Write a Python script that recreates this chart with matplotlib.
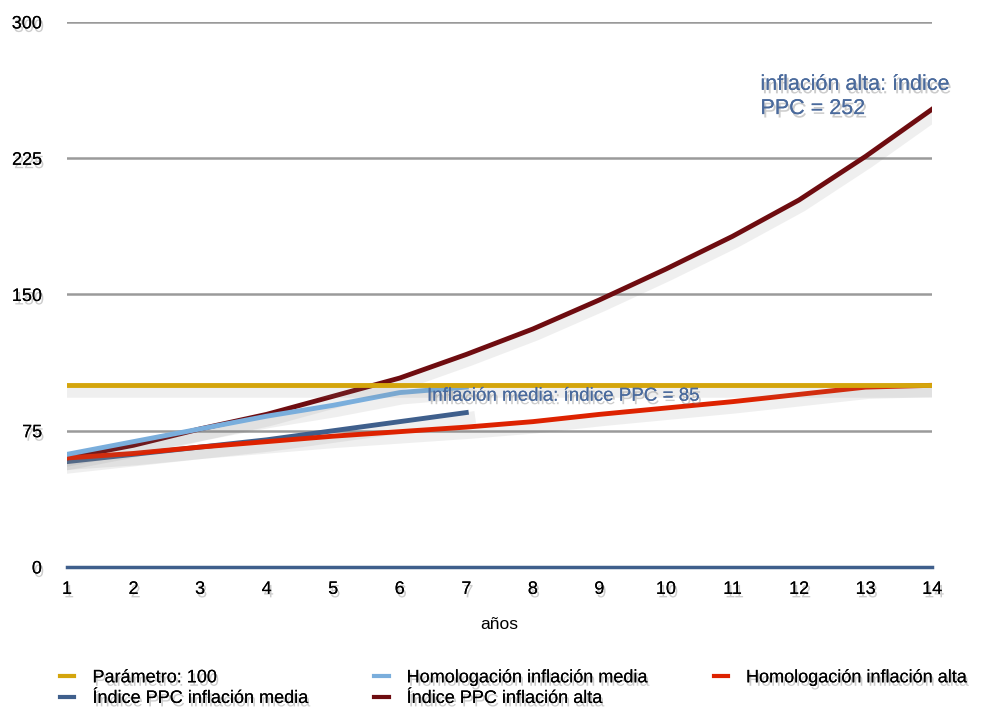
import matplotlib.pyplot as plt
import matplotlib.patheffects as pe
import numpy as np

plt.rcParams['font.family'] = ['Liberation Sans', 'DejaVu Sans']

anios = list(range(1, 15))
parametro = [100] * 14
homolog_media = [62, 69, 76, 83, 89, 96, 99]
indice_media = [58, 62, 66, 70, 75, 80, 85]
indice_alta = [60, 67, 76, 84, 94, 104, 117, 131, 147, 164, 182, 202, 226, 252]
homolog_alta = [60, 62.5, 66, 69, 72, 74.5, 77, 80, 84, 87.5, 91, 95, 99, 100]

yticks = [0, 75, 150, 225, 300]

c_param = "#d4a50c"
c_hmedia = "#7aaedc"
c_imedia = "#3f5f8c"
c_ialta = "#6e0c10"
c_halta = "#dd2200"
c_text = "#4a6a9c"

shadow = [pe.SimpleLineShadow(offset=(2, -4), shadow_color="gray", alpha=0.12, linewidth=9), pe.Normal()]
tshadow = [pe.withSimplePatchShadow(offset=(1.5, -2.5), shadow_rgbFace="gray", alpha=0.4), pe.Normal()]

fig = plt.figure(figsize=(9.82, 7.09), dpi=100)
ax = fig.add_axes([0.0682, 0.2003, 0.881, 0.7687])

ax.plot(anios, parametro, color=c_param, lw=3.5, label="Parámetro: 100", zorder=6, path_effects=shadow)
ax.plot(anios[:7], indice_media, color=c_imedia, lw=3.5, label="Índice PPC inflación media", zorder=3, path_effects=shadow)
ax.plot(anios[:7], homolog_media, color=c_hmedia, lw=3.5, label="Homologación inflación media", zorder=5, path_effects=shadow)
ax.plot(anios, indice_alta, color=c_ialta, lw=3.5, label="Índice PPC inflación alta", zorder=4, path_effects=shadow)
ax.plot(anios, homolog_alta, color=c_halta, lw=3.5, label="Homologación inflación alta", zorder=4, path_effects=shadow)

ax.set_xlim(1, 14)
ax.set_ylim(0, 300)
ax.set_xticks(anios)
ax.set_yticks(yticks)
ax.set_yticklabels([str(v) for v in yticks])
ax.grid(axis="y", color="#9a9a9a", lw=1.8, zorder=0)
ax.set_axisbelow(True)
for s in ["top", "right", "left"]:
    ax.spines[s].set_visible(False)
ax.spines["bottom"].set_color(c_imedia)
ax.spines["bottom"].set_linewidth(2.5)
ax.tick_params(length=0, labelsize=13)
ax.tick_params(axis="y", pad=18)
ax.tick_params(axis="x", pad=10)
for lab in ax.get_xticklabels() + ax.get_yticklabels():
    lab.set_path_effects(tshadow)

ax.set_xlabel("años", fontsize=12.5, labelpad=14)

ax.text(6.41, 94, "Inflación media: índice PPC = 85", color=c_text, fontsize=13.5,
        va="center", ha="left", path_effects=tshadow, zorder=7)
ax.text(11.42, 259, "inflación alta: índice\nPPC = 252", color=c_text, fontsize=15.5,
        va="center", ha="left", linespacing=1.2, path_effects=tshadow, zorder=7)

leg = fig.legend(loc="lower left", bbox_to_anchor=(0.0445, -0.02), ncol=3, frameon=False,
                 fontsize=13, handlelength=0.8, handletextpad=1.0, columnspacing=3.65,
                 labelspacing=0.2)
for line in leg.get_lines():
    line.set_path_effects([])
    line.set_linewidth(3)
for t in leg.get_texts():
    t.set_path_effects(tshadow)

fig.savefig("out.png", dpi=100)
